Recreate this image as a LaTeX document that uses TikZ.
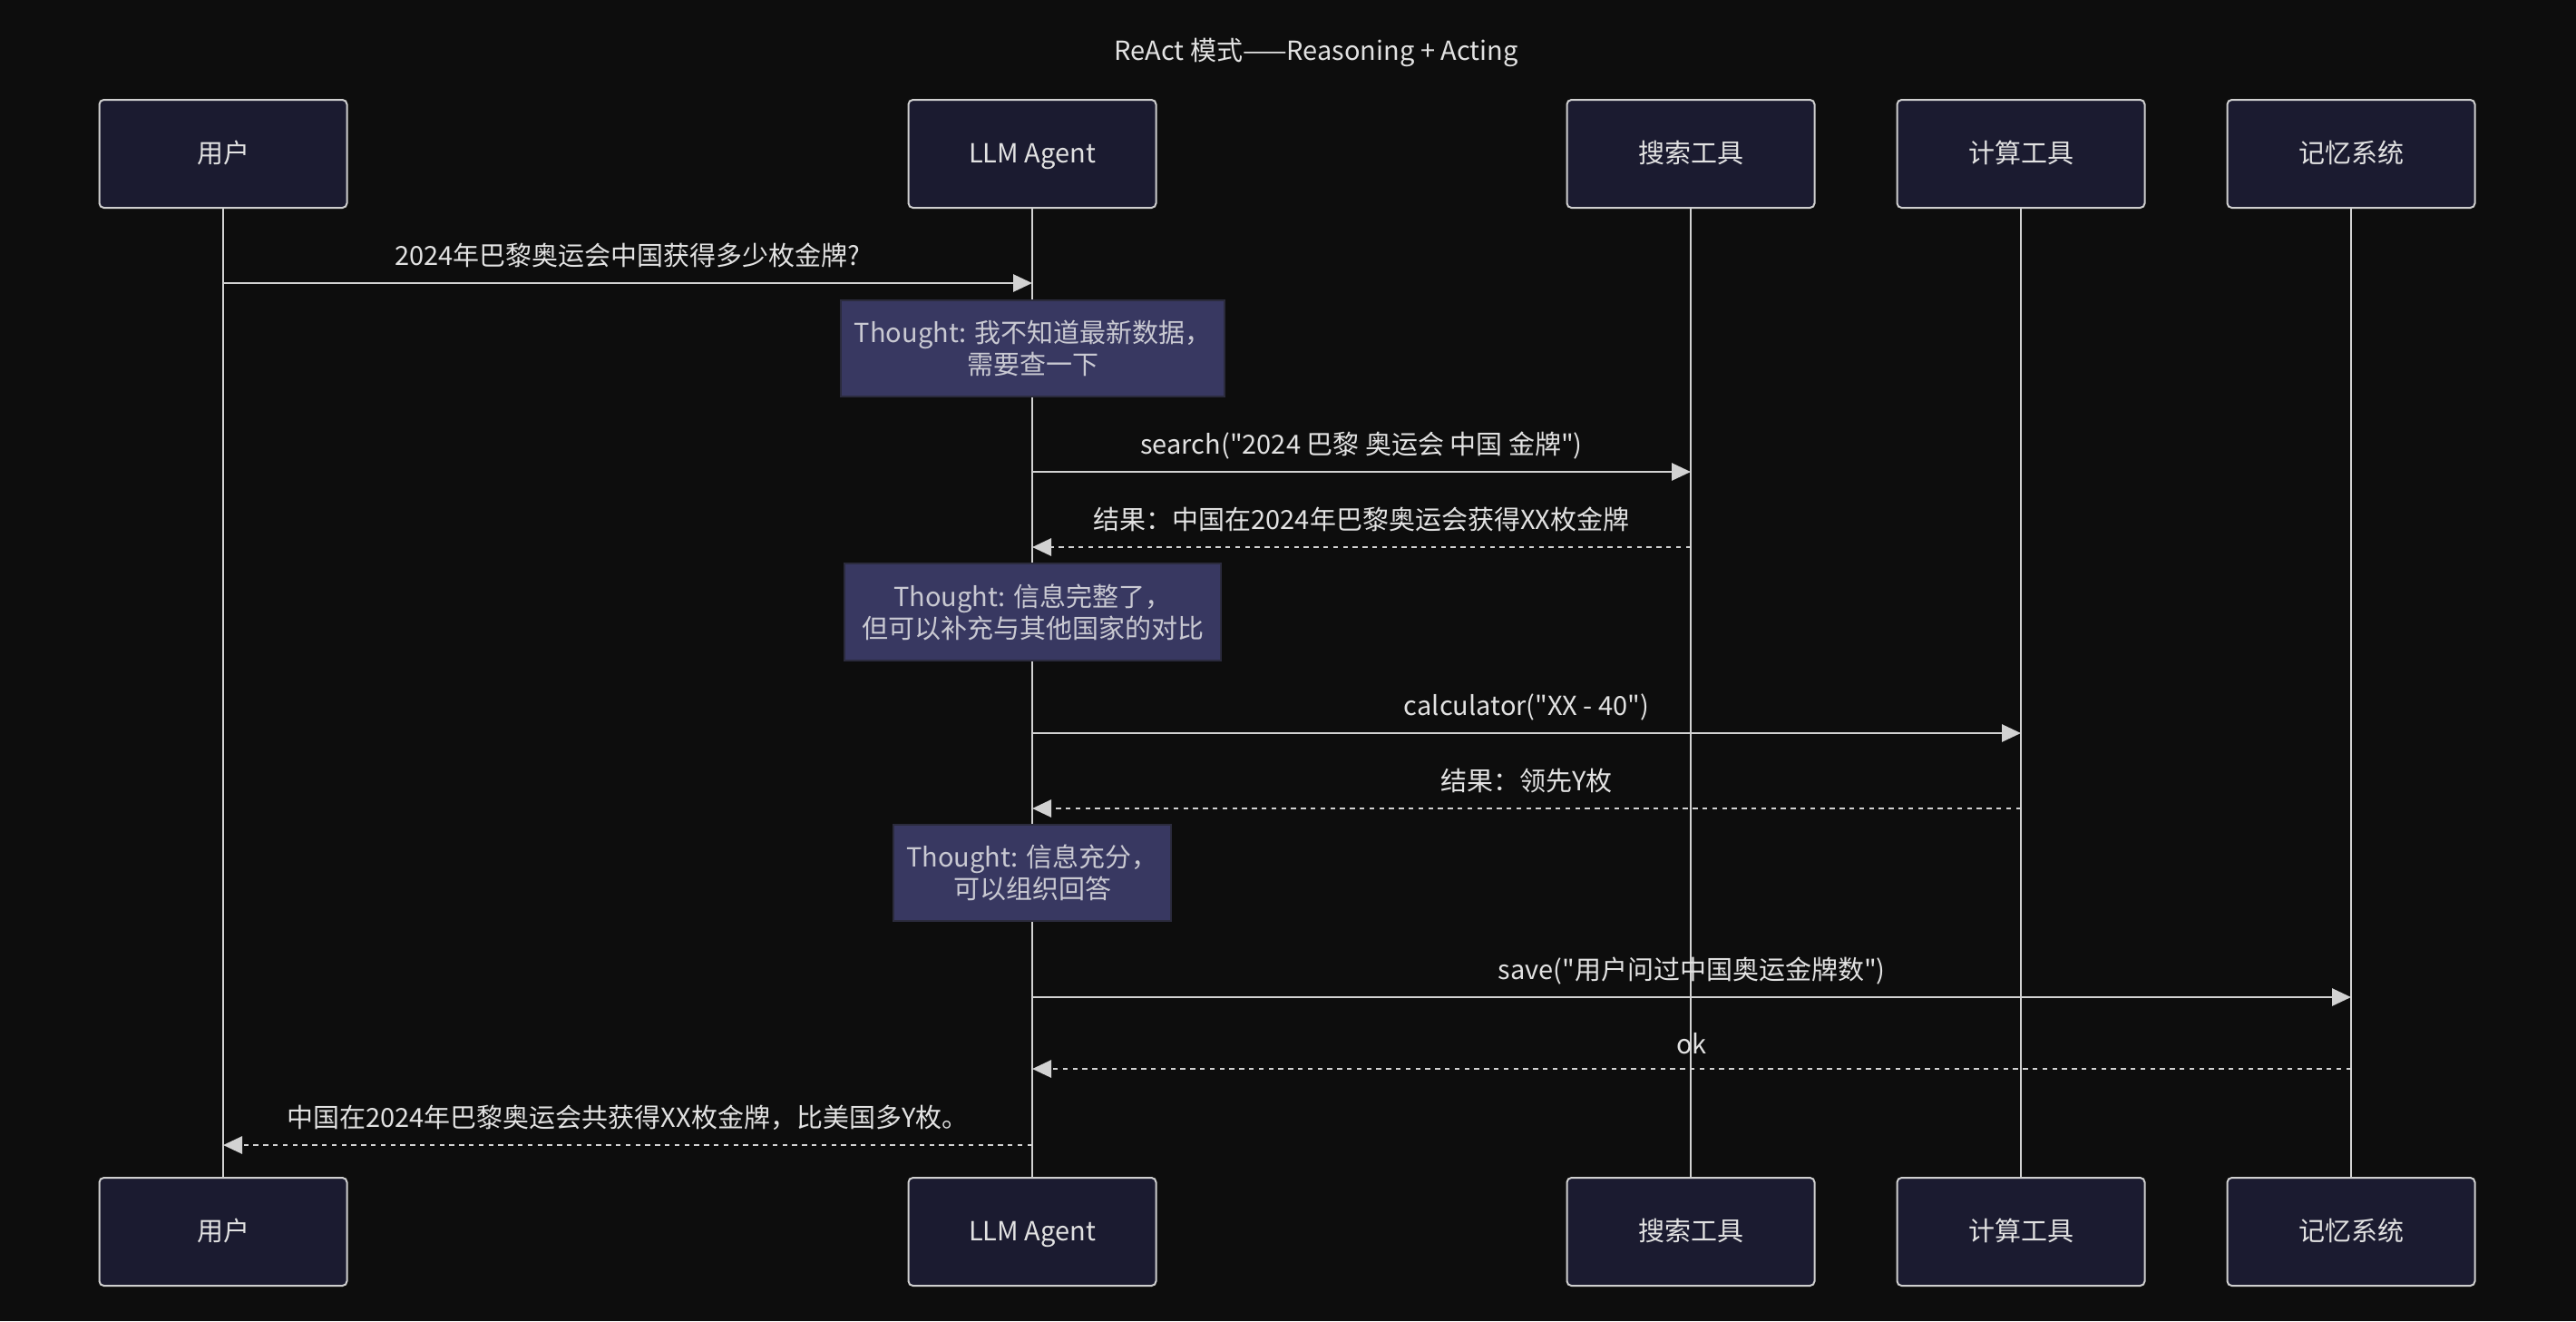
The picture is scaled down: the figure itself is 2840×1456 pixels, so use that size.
\documentclass[tikz,border=0pt]{standalone}
\usepackage{fontspec}
\newfontfamily\cjkfont{Noto Sans CJK SC}
\usetikzlibrary{arrows.meta}
\definecolor{bg}{HTML}{0D0D0D}
\definecolor{actfill}{HTML}{1B1B30}
\definecolor{actline}{HTML}{CFCFCF}
\definecolor{txt}{HTML}{E2E2E2}
\definecolor{notefill}{HTML}{383861}
\definecolor{noteline}{HTML}{2B2B3D}
\definecolor{notetxt}{HTML}{C9C9D2}
\definecolor{ln}{HTML}{D2D2D2}
\begin{document}
\begin{tikzpicture}[x=0.5pt,y=-0.5pt,
  basefont/.style={font=\cjkfont\fontsize{14.5}{17.5}\selectfont},
  actor/.style={basefont, draw=actline, line width=1pt, fill=actfill, rounded corners=2.5pt,
    minimum width=136.5pt, minimum height=59.5pt, inner sep=0pt, text=txt,
    text height=1.0em, text depth=0em},
  life/.style={draw=ln, line width=1.2pt},
  msg/.style={draw=ln, line width=1.4pt, -{Triangle[length=10.5pt,width=9.5pt]}},
  reply/.style={msg, dash pattern=on 2.7pt off 2.7pt},
  lbl/.style={basefont, text=txt, anchor=base, inner sep=0pt},
  note/.style={basefont, draw=noteline, line width=1pt, fill=notefill, text=notetxt,
    align=center, inner sep=0pt, minimum height=53pt}
]
\fill[bg] (0,0) rectangle (2840,1456);
\useasboundingbox (0,0) rectangle (2840,1456);

\node[basefont, text=txt] (title) at (1451,58) {ReAct 模式——Reasoning + Acting};

% actors top
\node[actor] (uT) at (246,169.5) {用户};
\node[actor] (aT) at (1138,169.5) {LLM Agent};
\node[actor] (sT) at (1864,169.5) {搜索工具};
\node[actor] (cT) at (2228,169.5) {计算工具};
\node[actor] (mT) at (2592,169.5) {记忆系统};
% actors bottom
\node[actor] (uB) at (246,1357.5) {用户};
\node[actor] (aB) at (1138,1357.5) {LLM Agent};
\node[actor] (sB) at (1864,1357.5) {搜索工具};
\node[actor] (cB) at (2228,1357.5) {计算工具};
\node[actor] (mB) at (2592,1357.5) {记忆系统};

% lifelines
\draw[life] (uT.south) -- (uB.north);
\draw[life] (aT.south) -- (aB.north);
\draw[life] (sT.south) -- (sB.north);
\draw[life] (cT.south) -- (cB.north);
\draw[life] (mT.south) -- (mB.north);

% message anchor coordinates
\coordinate (u1) at (246,312);   \coordinate (a1) at (1138,312);
\coordinate (a3) at (1138,520);  \coordinate (s3) at (1864,520);
\coordinate (s4) at (1864,603);  \coordinate (a4) at (1138,603);
\coordinate (a6) at (1138,808);  \coordinate (c6) at (2228,808);
\coordinate (c7) at (2228,891);  \coordinate (a7) at (1138,891);
\coordinate (a9) at (1138,1099); \coordinate (m9) at (2592,1099);
\coordinate (m10) at (2592,1178);\coordinate (a10) at (1138,1178);
\coordinate (a11) at (1138,1262);\coordinate (u11) at (246,1262);

% messages
\draw[msg] (u1) -- (a1);
\node[lbl] (l1) at (692,292) {2024年巴黎奥运会中国获得多少枚金牌?};

\node[note, minimum width=211.5pt] (n1) at (1138.5,384) {Thought: 我不知道最新数据，\\需要查一下};

\draw[msg] (a3) -- (s3);
\node[lbl] (l3) at (1501,500) {search("2024 巴黎 奥运会 中国 金牌")};

\draw[reply] (s4) -- (a4);
\node[lbl] (l4) at (1501,583) {结果：中国在2024年巴黎奥运会获得XX枚金牌};

\node[note, minimum width=207.5pt, minimum height=53.5pt] (n2) at (1138.5,674.5) {Thought: 信息完整了，\\但可以补充与其他国家的对比};

\draw[msg] (a6) -- (c6);
\node[lbl] (l6) at (1683,788) {calculator("XX - 40")};

\draw[reply] (c7) -- (a7);
\node[lbl] (l7) at (1683,871) {结果：领先Y枚};

\node[note, minimum width=153pt] (n3) at (1138,962) {Thought: 信息充分，\\可以组织回答};

\draw[msg] (a9) -- (m9);
\node[lbl] (l9) at (1865,1079) {save("用户问过中国奥运金牌数")};

\draw[reply] (m10) -- (a10);
\node[lbl] (l10) at (1865,1161) {ok};

\draw[reply] (a11) -- (u11);
\node[lbl] (l11) at (692,1242) {中国在2024年巴黎奥运会共获得XX枚金牌，比美国多Y枚。};
\end{tikzpicture}
\end{document}
